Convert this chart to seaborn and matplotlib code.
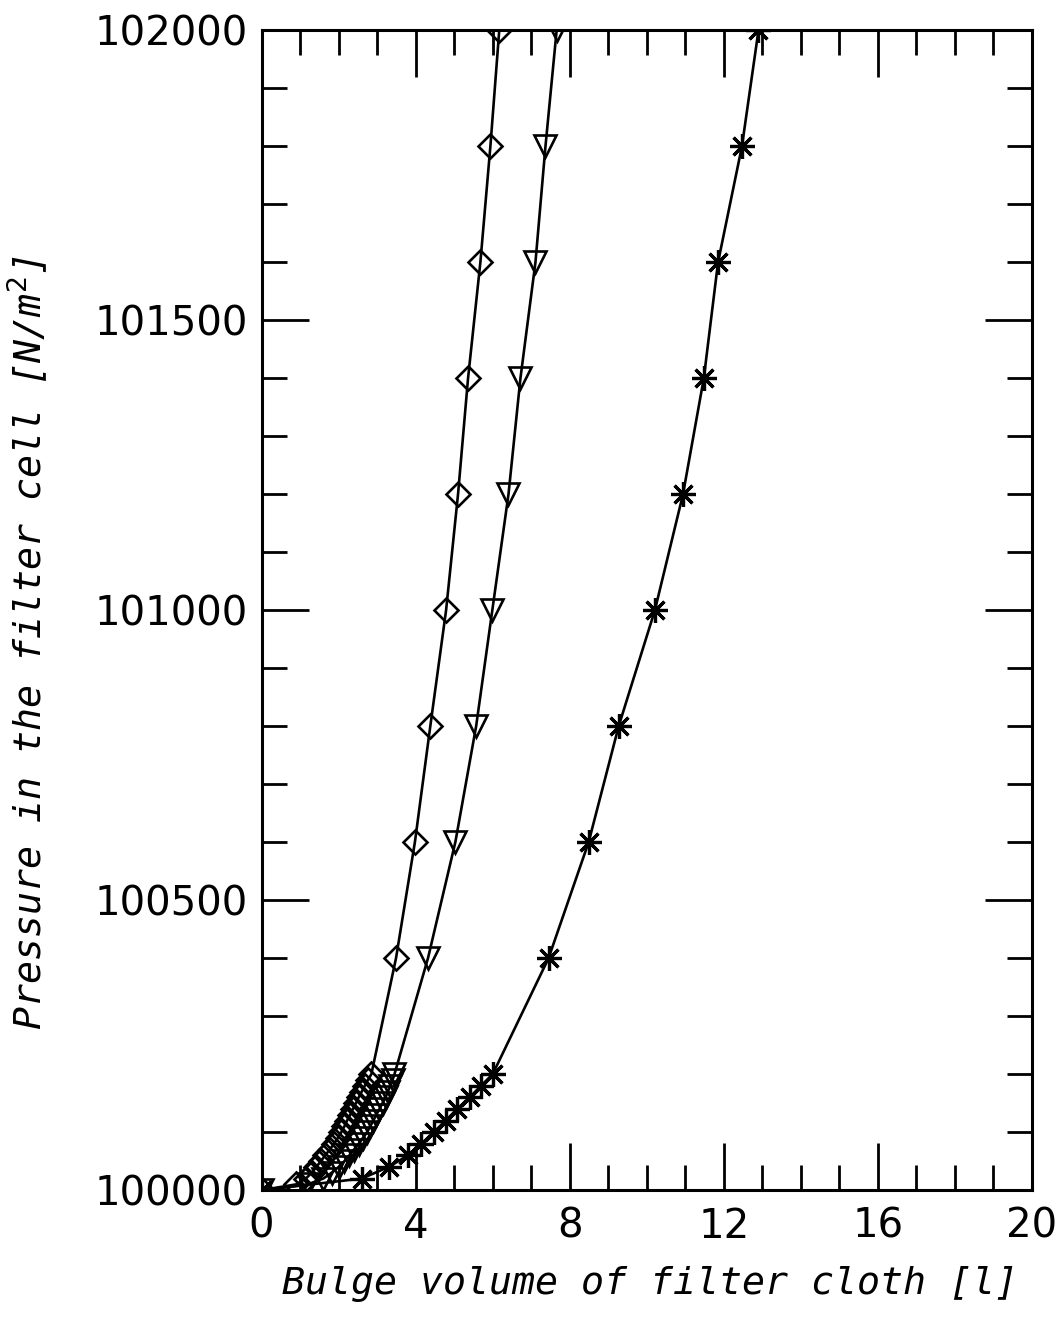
import numpy as np
import pandas as pd
import matplotlib
matplotlib.use("Agg")
import matplotlib.pyplot as plt
from matplotlib.ticker import MultipleLocator
import seaborn as sns

# ---- data ----
pressure_fine = [100000, 100010, 100020, 100030, 100040, 100050, 100060,
                 100070, 100080, 100090, 100100, 100110, 100120, 100130,
                 100140, 100150, 100160, 100170, 100180, 100190, 100200]
pressure_coarse = [100000, 100020, 100040, 100060, 100080, 100100,
                   100120, 100140, 100160, 100180, 100200]
pressure_high = [100400, 100600, 100800, 101000, 101200,
                 101400, 101600, 101800, 102000]

diamond_low = [0.0, 0.90, 1.15, 1.30, 1.42, 1.54, 1.65, 1.77, 1.88, 1.98,
               2.07, 2.15, 2.22, 2.30, 2.37, 2.45, 2.52, 2.60, 2.68, 2.76,
               2.85]
diamond_high = [3.49, 3.98, 4.38, 4.79, 5.10, 5.36, 5.68, 5.94, 6.17]

triangle_low = [0.0, 1.20, 1.60, 1.82, 2.00, 2.15, 2.28, 2.40, 2.52, 2.63,
                2.74, 2.82, 2.90, 2.98, 3.06, 3.14, 3.22, 3.28, 3.34, 3.40,
                3.45]
triangle_high = [4.32, 5.03, 5.57, 5.99, 6.41, 6.72, 7.11, 7.37, 7.66]

star_low = [0.0, 2.60, 3.30, 3.80, 4.15, 4.47, 4.78, 5.08, 5.40, 5.70, 6.00]
star_high = [7.45, 8.49, 9.27, 10.21, 10.94, 11.48, 11.85, 12.47, 12.90]

series_names = ["diamond", "triangle", "star"]
x_ticks = [0, 4, 8, 12, 16, 20]
y_ticks = [100000, 100500, 101000, 101500, 102000]
x_label = "Bulge volume of filter cloth [l]"
y_label = "Pressure in the filter cell [N/m$^2$]"

frames = []
for name, plo, lo, hi in zip(series_names,
                             [pressure_fine, pressure_fine, pressure_coarse],
                             [diamond_low, triangle_low, star_low],
                             [diamond_high, triangle_high, star_high]):
    frames.append(pd.DataFrame({"volume": lo + hi,
                                "pressure": plo + pressure_high,
                                "series": name}))
df = pd.concat(frames, ignore_index=True)

# ---- plot ----
sns.set_theme(style="white")
plt.rcParams["font.family"] = ["DejaVu Sans"]

fig = plt.figure(figsize=(10.59, 13.18), dpi=100)
ax = fig.add_axes([0.247, 0.097, 0.7275, 0.880])

# placeholder "s" for the star series, swapped for an asterisk afterwards
marker_map = {"diamond": "D", "triangle": "v", "star": "s"}
sns.lineplot(data=df, x="volume", y="pressure", style="series",
             style_order=series_names,
             markers=marker_map, dashes=False, color="black",
             sort=False, estimator=None, legend=False, ax=ax,
             linewidth=1.9, markerfacecolor="none",
             markeredgecolor="black", markeredgewidth=1.9)

size_map = {"D": 12, "v": 16}
for line in ax.lines:
    m = line.get_marker()
    if m == "s":
        line.set_marker((8, 2, 0))
        line.set_markersize(18)
        line.set_markeredgewidth(2.3)
    elif m in size_map:
        line.set_markersize(size_map[m])

ax.set_xlim(0, 20)
ax.set_ylim(100000, 102000)
ax.xaxis.set_major_locator(MultipleLocator(4))
ax.xaxis.set_minor_locator(MultipleLocator(1))
ax.yaxis.set_major_locator(MultipleLocator(500))
ax.yaxis.set_minor_locator(MultipleLocator(100))
ax.set_xticks(x_ticks)
ax.set_xticklabels([str(t) for t in x_ticks])
ax.set_yticks(y_ticks)
ax.set_yticklabels([str(t) for t in y_ticks])

ax.tick_params(which="both", direction="in", top=True, right=True,
               bottom=True, left=True, color="black", width=2.0)
ax.tick_params(which="major", length=34, labelsize=29, pad=12,
               labelcolor="black")
ax.tick_params(which="minor", length=18)
ax.tick_params(axis="y", which="major", pad=10)

for sp in ax.spines.values():
    sp.set_visible(True)
    sp.set_color("black")
    sp.set_linewidth(2.2)

lab_font = dict(family="DejaVu Sans Mono", style="italic", size=27.5,
                color="black")
ax.set_xlabel(x_label, **lab_font)
ax.set_ylabel(y_label, **lab_font)
ax.xaxis.set_label_coords(0.504, -0.065)
ax.xaxis.label.set_va("top")
ax.yaxis.set_label_coords(-0.275, 0.472)

fig.savefig("out.png", dpi=100, facecolor="white")
